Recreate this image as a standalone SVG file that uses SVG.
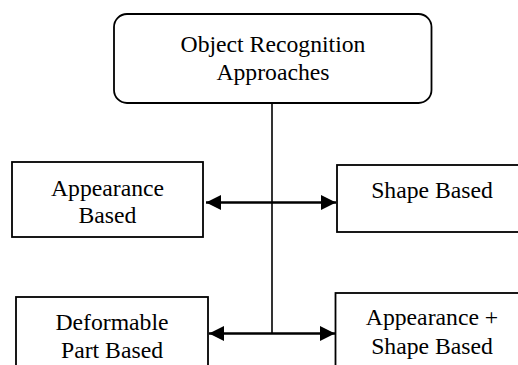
<svg xmlns="http://www.w3.org/2000/svg" width="518" height="365" viewBox="0 0 518 365">
<style>
.box{fill:#fff;stroke:#000;stroke-width:1.8}
.t{font-family:'Liberation Serif','Times New Roman',serif;font-size:23.7px;fill:#000;text-anchor:middle}
.conn{stroke:#000;fill:none}
</style>
<defs>
<marker id="ah" markerUnits="userSpaceOnUse" markerWidth="16" markerHeight="16" viewBox="0 0 16 16" refX="15" refY="8" orient="auto-start-reverse">
<path d="M0,0.5 L15,8 L0,15.5 Z" fill="#000"/>
</marker>
</defs>
<rect width="518" height="365" fill="#fff"/>
<g id="connectors">
<line class="conn" x1="272" y1="103" x2="272" y2="334" stroke-width="1.6"/>
<line class="conn" x1="206" y1="202.5" x2="336" y2="202.5" stroke-width="2.6" marker-start="url(#ah)" marker-end="url(#ah)"/>
<line class="conn" x1="209" y1="333.5" x2="335" y2="333.5" stroke-width="2.6" marker-start="url(#ah)" marker-end="url(#ah)"/>
</g>
<g id="root">
<rect class="box" x="114" y="14" width="317.5" height="89" rx="13" ry="13"/>
<text class="t" x="273" y="51.7">Object Recognition</text>
<text class="t" x="273" y="80">Approaches</text>
</g>
<g id="appearance">
<rect class="box" x="12" y="162" width="191" height="75"/>
<text class="t" x="107.5" y="195.5">Appearance</text>
<text class="t" x="107.5" y="223">Based</text>
</g>
<g id="shape">
<rect class="box" x="337" y="165" width="200" height="67"/>
<text class="t" x="432" y="198">Shape Based</text>
</g>
<g id="deformable">
<rect class="box" x="16" y="297" width="192" height="90"/>
<text class="t" x="112" y="330">Deformable</text>
<text class="t" x="112" y="358">Part Based</text>
</g>
<g id="appshape">
<rect class="box" x="335.5" y="293" width="200" height="90"/>
<text class="t" x="432" y="325">Appearance +</text>
<text class="t" x="432" y="354">Shape Based</text>
</g>
</svg>
